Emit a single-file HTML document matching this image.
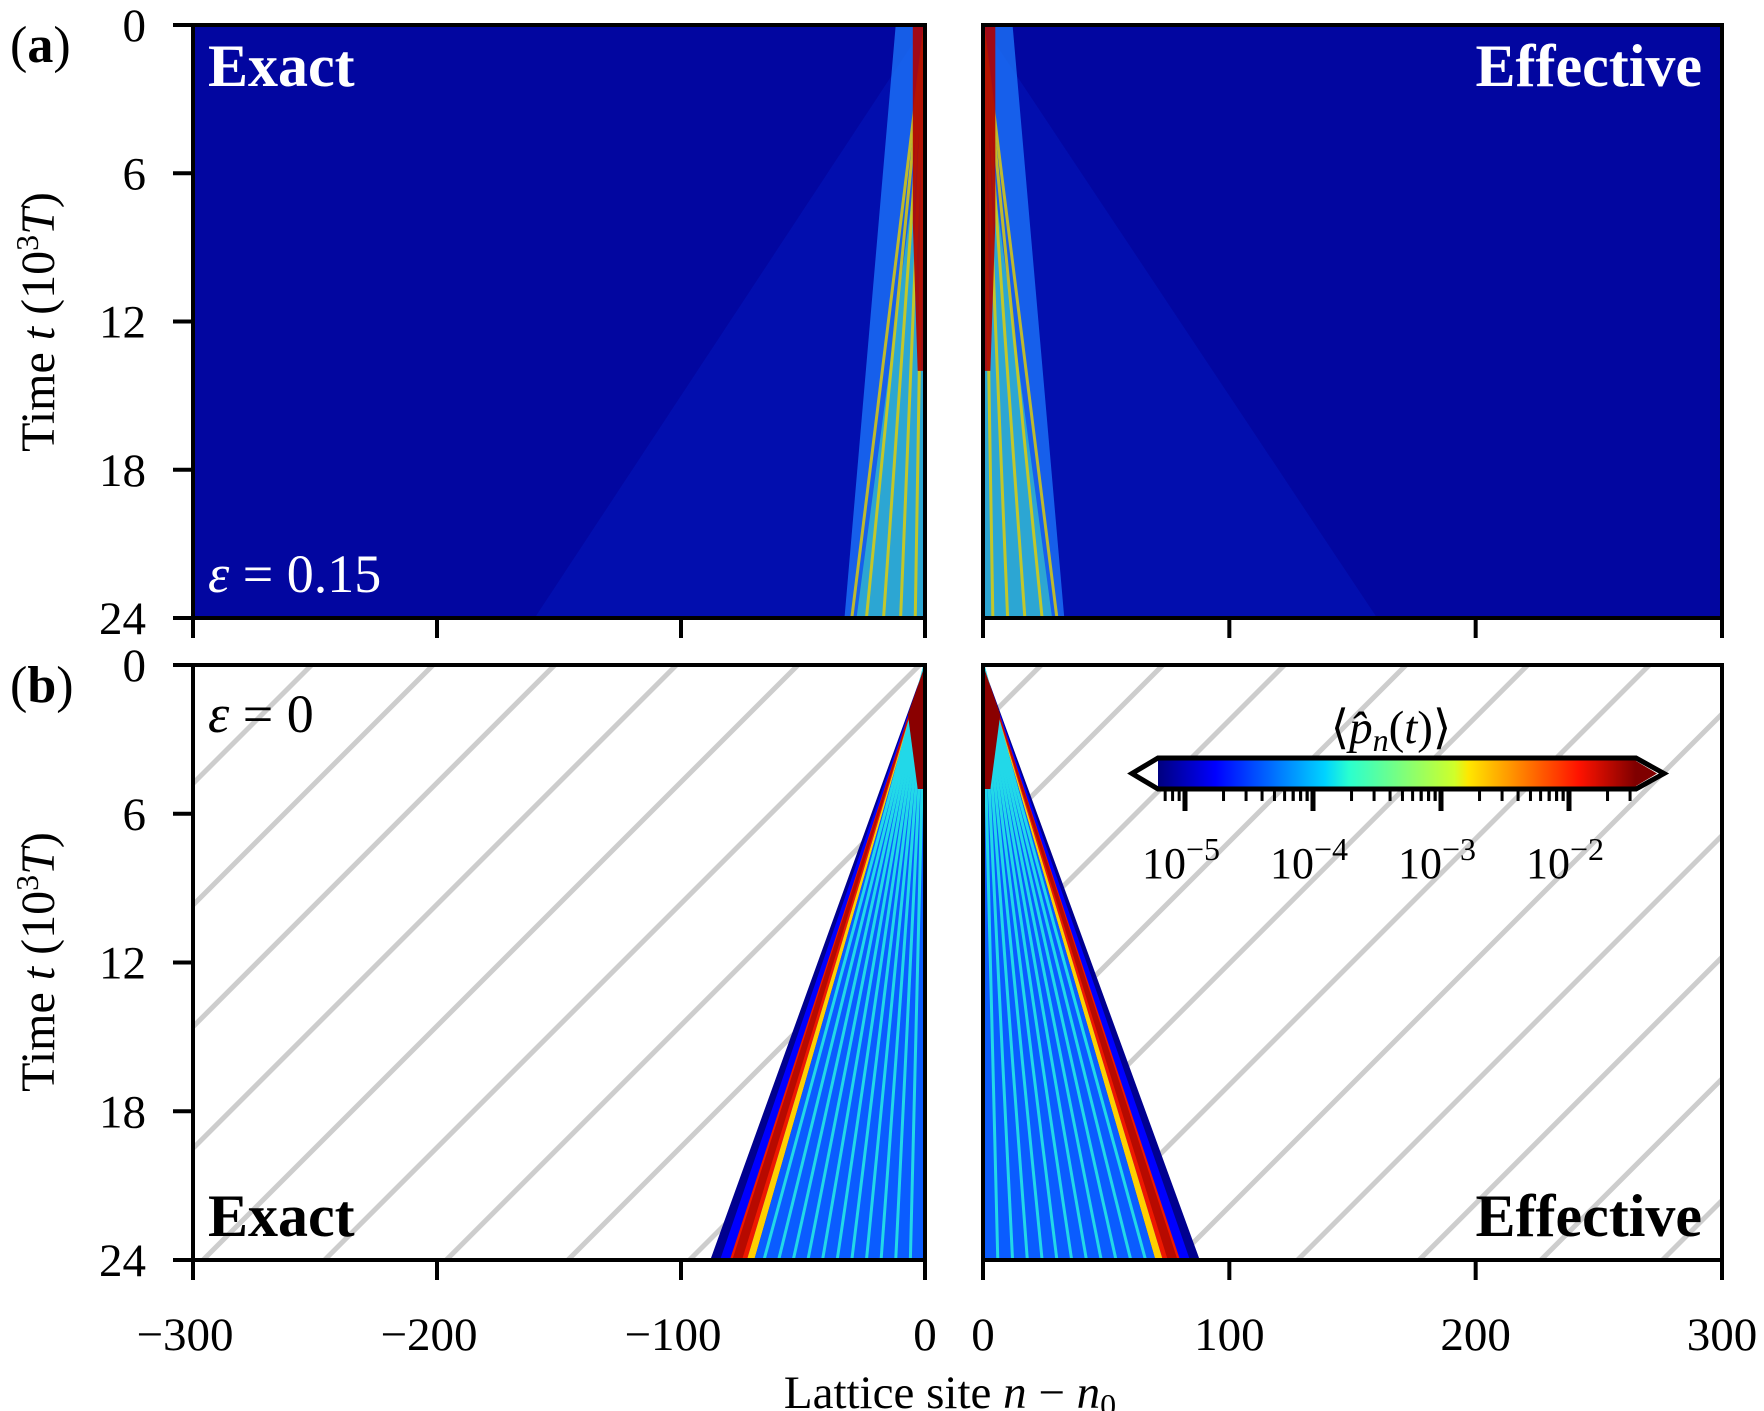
<!DOCTYPE html>
<html><head><meta charset="utf-8"><style>
html,body{margin:0;padding:0;background:#fff}
svg{display:block}
text{font-family:"Liberation Serif",serif;fill:#000}
</style></head><body>
<svg id="fig" width="1764" height="1411" viewBox="0 0 1764 1411" xmlns="http://www.w3.org/2000/svg">
<defs>
<pattern id="hatch" patternUnits="userSpaceOnUse" width="86" height="86" patternTransform="rotate(-45)">
<rect width="86" height="86" fill="#fff"/><rect x="0" y="0" width="86" height="5" fill="#cdcdcd"/>
</pattern>
<linearGradient id="jet" x1="0" x2="1" y1="0" y2="0">
<stop offset="0" stop-color="#00007f"/><stop offset="0.12" stop-color="#0000ff"/>
<stop offset="0.35" stop-color="#00d4ff"/><stop offset="0.4" stop-color="#2affcf"/>
<stop offset="0.62" stop-color="#cfff2a"/><stop offset="0.65" stop-color="#ffe600"/>
<stop offset="0.88" stop-color="#ff1300"/><stop offset="1" stop-color="#7f0000"/>
</linearGradient>
<clipPath id="cTL"><rect x="193" y="25" width="732" height="593"/></clipPath>
<clipPath id="cTR"><rect x="983" y="25" width="739" height="593"/></clipPath>
<clipPath id="cBL"><rect x="193" y="665" width="732" height="595"/></clipPath>
<clipPath id="cBR"><rect x="983" y="665" width="739" height="595"/></clipPath>
</defs>
<g id="plots"></g>
<g id="axes"></g>
</svg>
<script>
const timeTicks=[0,6,12,18,24];
const leftTicks=[-300,-200,-100,0];
const rightTicks=[0,100,200,300];
// top (eps=0.15): core spread edge at t=24, broad faint halo edge
const topCoreEdge=[-33];
const topHaloEdge=[-160];
const topRedLines=[-4,-10,-17,-24,-30];
// bottom (eps=0): front edge, red band, interior stripes (positions at t=24)
const botFront=[-88];
const botRed=[-80,-73];
const botStripes=[-66,-60,-54,-48,-42,-36,-30,-24,-18,-12,-6];
const cbDecades=[-5,-4,-3,-2];

const NS="http://www.w3.org/2000/svg";
const plots=document.getElementById('plots'), axes=document.getElementById('axes');
function xL(n){return 193+(n+300)*732/300;}
function xR(n){return 983+n*739/300;}
function yT(t){return 25+t*593/24;}
function yB(t){return 665+t*595/24;}
function mk(tag,attrs,parent){const e=document.createElementNS(NS,tag);for(const k in attrs)e.setAttribute(k,attrs[k]);parent.appendChild(e);return e;}
function poly(pts,fill,parent,op){return mk('polygon',{points:pts.map(p=>p.join(',')).join(' '),fill:fill,opacity:op==null?1:op},parent);}

function panel(side,row){
  const X=side==='L'?xL:xR, Y=row==='T'?yT:yB, s=side==='L'?1:-1;
  const g=mk('g',{'clip-path':'url(#c'+row+side+')'},plots);
  
  
  const x0=X(side==='L'?-300:0), x1=X(side==='L'?0:300);
  if(row==='T'){
    mk('rect',{x:x0,y:Y(0),width:x1-x0,height:Y(24)-Y(0),fill:'#0206a0'},g);
    poly([[X(0),Y(0)],[X(s*topHaloEdge[0]),Y(24)],[X(0),Y(24)]],'#0a3cff',g,0.15);
    poly([[X(s*-2),Y(0)],[X(s*-12),Y(0)],[X(s*topCoreEdge[0]),Y(24)],[X(0),Y(24)],[X(0),Y(0)]],'#1e7bff',g,0.75);
    poly([[X(0),Y(3)],[X(s*topCoreEdge[0]*0.85),Y(24)],[X(0),Y(24)]],'#3fe0c0',g,0.55);
    topRedLines.forEach(v=>{mk('line',{x1:X(0),y1:Y(0),x2:X(s*v),y2:Y(24),stroke:'#e8d000','stroke-width':3,opacity:0.8},g);});
    poly([[X(0),Y(0)],[X(s*-5),Y(0)],[X(s*-5),Y(8)],[X(s*-3),Y(14)],[X(0),Y(14)]],'#b00000',g,0.9);
  } else {
    mk('rect',{x:x0,y:Y(0),width:x1-x0,height:Y(24)-Y(0),fill:'url(#hatch)'},g);
    poly([[X(0),Y(0)],[X(s*botFront[0]),Y(24)],[X(0),Y(24)]],'#00008f',g);
    poly([[X(0),Y(0)],[X(s*(botFront[0]+4)),Y(24)],[X(0),Y(24)]],'#0000ff',g);
    poly([[X(0),Y(0)],[X(s*botRed[0]),Y(24)],[X(s*botRed[1]),Y(24)]],'#ee1800',g);
    poly([[X(0),Y(0)],[X(s*(botRed[0]+1)),Y(24)],[X(s*(botRed[1]-2)),Y(24)]],'#8a0000',g,0.55);
    poly([[X(0),Y(0)],[X(s*botRed[1]),Y(24)],[X(s*(botRed[1]+3)),Y(24)]],'#ffd000',g);
    poly([[X(0),Y(0)],[X(s*(botRed[1]+3)),Y(24)],[X(0),Y(24)]],'#0a5cff',g);
    botStripes.forEach(v=>{mk('line',{x1:X(0),y1:Y(0),x2:X(s*v),y2:Y(24),stroke:'#22d8e8','stroke-width':3},g);});
    poly([[X(0),Y(0)],[X(s*-7),Y(2)],[X(s*-3),Y(5)],[X(0),Y(5)]],'#8a0000',g);
  }
  const fr=mk('rect',{x:x0,y:Y(0),width:x1-x0,height:Y(24)-Y(0),fill:'none',stroke:'#000','stroke-width':4},axes);
  
  
  (side==='L'?leftTicks:rightTicks).forEach(v=>{mk('line',{x1:X(v),y1:Y(24),x2:X(v),y2:Y(24)+20,stroke:'#000','stroke-width':4},axes);
    if(row==='B'){const t=mk('text',{x:X(v)+(v<0?-8:0),y:1350,'font-size':47,'text-anchor':'middle'},axes);t.textContent=(v<0?'\u2212':'')+Math.abs(v);
      
      }});
  if(side==='L'){timeTicks.forEach(v=>{mk('line',{x1:173,y1:Y(v),x2:193,y2:Y(v),stroke:'#000','stroke-width':4},axes);
    const t=mk('text',{x:146,y:Y(v)+16,'font-size':47,'text-anchor':'end'},axes);t.textContent=v;
    
    });}
}
panel('L','T');panel('R','T');panel('L','B');panel('R','B');

function txt(x,y,s,str,extra,name){const t=mk('text',Object.assign({x:x,y:y,'font-size':s},extra||{}),axes);t.innerHTML=str;
  
  return t;}
txt(10,62,52,'(<tspan font-weight="bold">a</tspan>)',{},'panel-label-a');
txt(10,702,52,'(<tspan font-weight="bold">b</tspan>)',{},'panel-label-b');
txt(208,86,60,'Exact',{'font-weight':'bold',style:'fill:#fff'},'title-exact-top');
txt(1702,86,60,'Effective',{'font-weight':'bold','text-anchor':'end',style:'fill:#fff'},'title-effective-top');
txt(208,592,54,'<tspan font-style="italic">ε</tspan> = 0.15',{style:'fill:#fff'},'label-eps-015');
txt(208,732,54,'<tspan font-style="italic">ε</tspan> = 0',{},'label-eps-0');
txt(208,1236,60,'Exact',{'font-weight':'bold'},'title-exact-bottom');
txt(1702,1236,60,'Effective',{'font-weight':'bold','text-anchor':'end'},'title-effective-bottom');
txt(950,1408,47,'Lattice site <tspan font-style="italic">n</tspan> − <tspan font-style="italic">n</tspan><tspan font-size="32" dy="8">0</tspan>',{'text-anchor':'middle'},'x-axis-title');
txt(0,0,48,'Time <tspan font-style="italic">t</tspan> (10<tspan font-size="32" dy="-16">3</tspan><tspan dy="16" font-style="italic">T</tspan>)',{'text-anchor':'middle',transform:'translate(54,322) rotate(-90)'},'y-axis-title-top');
txt(0,0,48,'Time <tspan font-style="italic">t</tspan> (10<tspan font-size="32" dy="-16">3</tspan><tspan dy="16" font-style="italic">T</tspan>)',{'text-anchor':'middle',transform:'translate(54,962) rotate(-90)'},'y-axis-title-bottom');

const cb=mk('g',{},axes);


const bx0=1158,bx1=1636,by0=758,by1=789,dec=128,xd=d=>1185+(d+5)*dec;
mk('rect',{x:bx0,y:by0,width:bx1-bx0,height:by1-by0,fill:'url(#jet)'},cb);
mk('polygon',{points:`${bx0},${by0} ${bx1},${by0} 1664,${(by0+by1)/2} ${bx1},${by1} ${bx0},${by1} 1132,${(by0+by1)/2}`,fill:'none',stroke:'#000','stroke-width':5},cb);
mk('polygon',{points:`${bx0},${by0+3} ${bx0},${by1-3} 1142,${(by0+by1)/2}`,fill:'#fff'},cb);
mk('polygon',{points:`${bx1},${by0+3} ${bx1},${by1-3} 1657,${(by0+by1)/2}`,fill:'#7f0000'},cb);
cbDecades.forEach(d=>{mk('line',{x1:xd(d),y1:by1,x2:xd(d),y2:by1+22,stroke:'#000','stroke-width':5},cb);
  for(let m=2;m<10;m++){const x=xd(d)+Math.log10(m)*dec;if(x<bx1)mk('line',{x1:x,y1:by1,x2:x,y2:by1+12,stroke:'#000','stroke-width':3},cb);}
  for(let m=7;m<10;m++){const x=xd(d-1)+Math.log10(m)*dec;if(x>bx0)mk('line',{x1:x,y1:by1,x2:x,y2:by1+12,stroke:'#000','stroke-width':3},cb);}
  const t=mk('text',{x:xd(d)-4,y:878,'font-size':44,'text-anchor':'middle'},cb);t.innerHTML='10<tspan font-size="32" dy="-18">−'+(-d)+'</tspan>';
  
  });
txt(1391,743,47,'⟨<tspan font-style="italic">p̂</tspan><tspan font-style="italic" font-size="32" dy="8">n</tspan><tspan dy="-8">(</tspan><tspan font-style="italic">t</tspan>)⟩',{'text-anchor':'middle'},'colorbar-label');
</script>
</body></html>
